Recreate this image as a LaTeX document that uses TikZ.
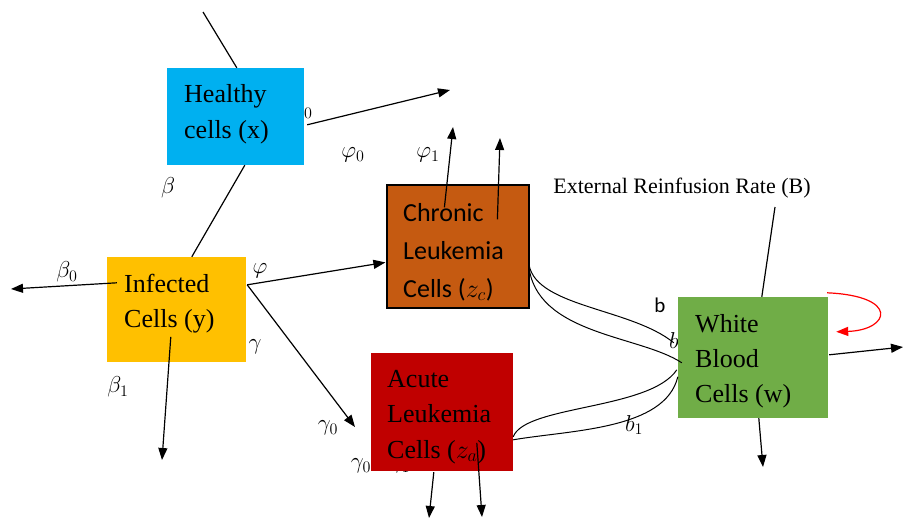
\RequirePackage{fix-cm}
\documentclass[tikz,border=0pt]{standalone}
\usepackage{fontspec}
\setmainfont{Liberation Serif}
\newfontfamily\calib{Carlito}
\usetikzlibrary{arrows.meta,calc}
\definecolor{hcol}{HTML}{00B0F0}
\definecolor{icol}{HTML}{FFC000}
\definecolor{ccol}{HTML}{C55A11}
\definecolor{acol}{HTML}{C00000}
\definecolor{wcol}{HTML}{70AD47}
\begin{document}
\begin{tikzpicture}[x=1pt,y=-1pt,
  box/.style={rectangle,inner sep=0pt,draw=none},
  txt/.style={anchor=base west,inner sep=0pt,align=left,font=\fontsize{26}{36}\selectfont},
  lab/.style={inner sep=0pt,font=\fontsize{23}{26}\selectfont},
  ln/.style={line width=1.2pt,black},
  arr/.style={ln,-{Triangle[length=12pt,width=9pt]}},
  rarr/.style={line width=1.2pt,red,-{Triangle[length=12pt,width=9pt]}}]
\useasboundingbox (0,0) rectangle (904,520);
% labels partly hidden behind boxes
\node[lab] (lphi0a) at (301,112) {$\varphi_0$};
\node[lab] (lgam1) at (400,466) {$\gamma_1$};
\node[lab] (lb2) at (674,341) {$b$};
% boxes
\node[box,fill=hcol,minimum width=137pt,minimum height=97pt] (healthy) at (235.5,116.5) {};
\node[box,fill=icol,minimum width=139pt,minimum height=105pt] (infected) at (176.5,309.5) {};
\node[box,fill=ccol,draw=black,line width=1.2pt,minimum width=142pt,minimum height=123pt] (chronic) at (458,246.5) {};
\node[box,fill=acol,minimum width=142pt,minimum height=118pt] (acute) at (442,412) {};
\node[box,fill=wcol,minimum width=150pt,minimum height=121pt] (wbc) at (753,357.5) {};
% texts (anchor = baseline of last line)
\node[txt] (healthyT) at (184,138) {Healthy\\cells (x)};
\node[txt,font=\fontsize{26}{35}\selectfont] (infectedT) at (124,327) {Infected\\Cells (y)};
\node[txt,font=\calib\fontsize{26}{38}\selectfont] (chronicT) at (403,297) {Chronic\\Leukemia\\Cells ($z_c$)};
\node[txt,font=\fontsize{26}{35.5}\selectfont] (acuteT) at (387,458) {Acute\\Leukemia\\Cells ($z_a$)};
\node[txt,font=\fontsize{26}{35}\selectfont] (wbcT) at (695,402) {White\\Blood\\Cells (w)};
\node[inner sep=0pt,font=\fontsize{22}{24}\selectfont] (ext) at (682,188) {External Reinfusion Rate (B)};
% free ends
\coordinate (topH) at (203,12);
\coordinate (phi0end) at (450,90);
\coordinate (b0end) at (11,289);
\coordinate (b1end) at (162,460);
\coordinate (g0end) at (355,427);
\coordinate (c1end) at (453,127);
\coordinate (c2end) at (500,138);
\coordinate (a1end) at (429,518);
\coordinate (a2end) at (482,517);
\coordinate (extB) at (775,207);
\coordinate (wRend) at (903,347);
\coordinate (wDend) at (763,467);
% connectors
\draw[ln] (topH) -- ($(healthy.north west)+(70,0)$);
\draw[arr] ($(healthy.north east)+(3,57)$) -- (phi0end);
\draw[ln] ($(healthy.south west)+(78,0)$) -- ($(infected.north west)+(85,0)$);
\draw[arr] ($(infected.north west)+(10,26)$) -- (b0end);
\draw[arr] ($(infected.north west)+(64,80)$) -- (b1end);
\draw[arr] ($(infected.north east)+(1,28)$) -- ($(chronic.north west)+(-1,78)$);
\draw[arr] ($(infected.north east)+(1,28)$) -- (g0end);
\draw[arr] ($(chronic.north west)+(58,23)$) -- (c1end);
\draw[arr] ($(chronic.north west)+(111,35)$) -- (c2end);
\draw[arr] ($(acute.south west)+(63,1)$) -- (a1end);
\draw[arr] ($(acute.north west)+(106,90)$) -- (a2end);
\draw[ln] (extB) -- ($(wbc.north west)+(84,0)$);
\draw[arr] ($(wbc.north east)+(1,58)$) -- (wRend);
\draw[arr] ($(wbc.south west)+(81,0)$) -- (wDend);
\draw[rarr] ($(wbc.north east)+(-1,-4)$) .. controls (900,296) and (890,330) .. ($(wbc.north east)+(8,35)$);
% curves chronic -> wbc
\draw[line width=1pt] ($(chronic.north east)+(-1,76)$) .. controls (530,307) and (630,307) .. ($(wbc.north west)+(-4,46)$);
\draw[line width=1pt] ($(chronic.north east)+(-1,80)$) .. controls (535,335) and (640,335) .. ($(wbc.north west)+(4,66)$);
% curves acute -> wbc
\draw[line width=1pt] ($(acute.north east)+(0,84)$) .. controls (525,405) and (650,410) .. ($(wbc.north west)+(-1,73)$);
\draw[line width=1pt] ($(acute.north east)+(0,87)$) .. controls (570,430) and (665,430) .. ($(wbc.north west)+(0,80)$);
% labels
\node[lab] (lphi0) at (353,155) {$\varphi_0$};
\node[lab] (lphi1) at (428,155) {$\varphi_1$};
\node[lab] (lbeta) at (168,188) {$\beta$};
\node[lab] (lbeta0) at (67,272) {$\beta_0$};
\node[lab] (lbeta1) at (118,387) {$\beta_1$};
\node[lab] (lphi) at (260,271) {$\varphi$};
\node[lab] (lgam) at (255,347) {$\gamma$};
\node[lab] (lgam0) at (328,428) {$\gamma_0$};
\node[lab] (lgam0b) at (361,466) {$\gamma_0$};
\node[lab,font=\calib\fontsize{21}{24}\selectfont] (lb) at (660,305) {b};
\node[lab] (lb1) at (634,425) {$b_1$};
\end{tikzpicture}
\end{document}
